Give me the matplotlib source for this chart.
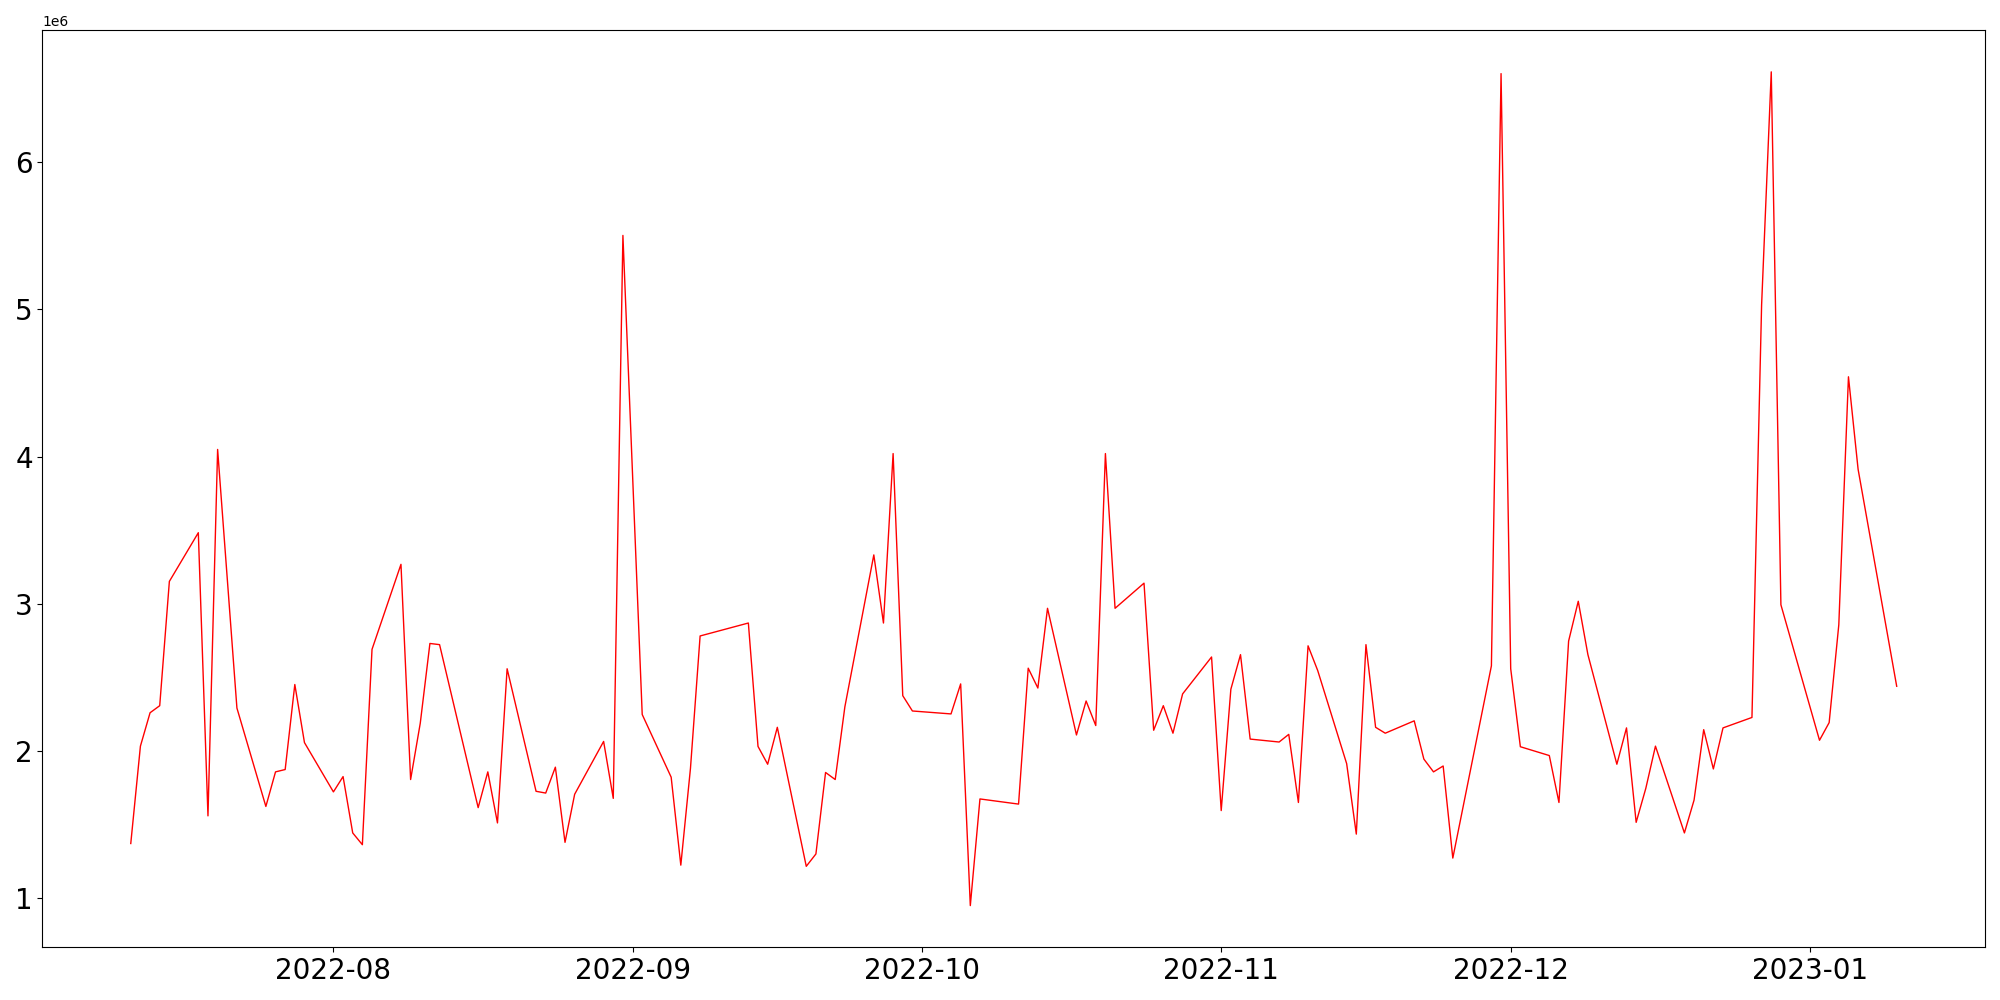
import pandas as pd
import matplotlib
matplotlib.use("Agg")
import matplotlib.pyplot as plt

# daily values (in millions)
dates = [
    "2022-07-11", "2022-07-12", "2022-07-13", "2022-07-14", "2022-07-15",
    "2022-07-18", "2022-07-19", "2022-07-20", "2022-07-22",
    "2022-07-25", "2022-07-26", "2022-07-27", "2022-07-28", "2022-07-29",
    "2022-08-01", "2022-08-02", "2022-08-03", "2022-08-04", "2022-08-05",
    "2022-08-08", "2022-08-09", "2022-08-10", "2022-08-11", "2022-08-12",
    "2022-08-16", "2022-08-17", "2022-08-18", "2022-08-19",
    "2022-08-22", "2022-08-23", "2022-08-24", "2022-08-25", "2022-08-26",
    "2022-08-29", "2022-08-30", "2022-08-31", "2022-09-02",
    "2022-09-05", "2022-09-06", "2022-09-07", "2022-09-08",
    "2022-09-13", "2022-09-14", "2022-09-15", "2022-09-16",
    "2022-09-19", "2022-09-20", "2022-09-21", "2022-09-22", "2022-09-23",
    "2022-09-26", "2022-09-27", "2022-09-28", "2022-09-29", "2022-09-30",
    "2022-10-04", "2022-10-05", "2022-10-06", "2022-10-07",
    "2022-10-11", "2022-10-12", "2022-10-13", "2022-10-14",
    "2022-10-17", "2022-10-18", "2022-10-19", "2022-10-20", "2022-10-21",
    "2022-10-24", "2022-10-25", "2022-10-26", "2022-10-27", "2022-10-28",
    "2022-10-31", "2022-11-01", "2022-11-02", "2022-11-03", "2022-11-04",
    "2022-11-07", "2022-11-08", "2022-11-09", "2022-11-10", "2022-11-11",
    "2022-11-14", "2022-11-15", "2022-11-16", "2022-11-17", "2022-11-18",
    "2022-11-21", "2022-11-22", "2022-11-23", "2022-11-24", "2022-11-25",
    "2022-11-29", "2022-11-30", "2022-12-01", "2022-12-02",
    "2022-12-05", "2022-12-06", "2022-12-07", "2022-12-08", "2022-12-09",
    "2022-12-12", "2022-12-13", "2022-12-14", "2022-12-15", "2022-12-16",
    "2022-12-19", "2022-12-20", "2022-12-21", "2022-12-22", "2022-12-23",
    "2022-12-26", "2022-12-27", "2022-12-28", "2022-12-29",
    "2023-01-02", "2023-01-03", "2023-01-04", "2023-01-05", "2023-01-06",
    "2023-01-10",
]
values = [
    1.369, 2.031, 2.258, 2.306, 3.151,
    3.482, 1.557, 4.048, 2.290,
    1.621, 1.856, 1.872, 2.450, 2.055,
    1.720, 1.824, 1.441, 1.361, 2.689,
    3.267, 1.804, 2.187, 2.729, 2.721,
    1.613, 1.856, 1.509, 2.557,
    1.724, 1.712, 1.888, 1.377, 1.704,
    2.063, 1.676, 5.503, 2.246,
    1.820, 1.222, 1.880, 2.780,
    2.868, 2.029, 1.908, 2.159,
    1.214, 1.298, 1.852, 1.804, 2.298,
    3.331, 2.868, 4.020, 2.374, 2.270,
    2.250, 2.454, 0.947, 1.672,
    1.637, 2.561, 2.426, 2.968,
    2.107, 2.338, 2.171, 4.020, 2.968,
    3.139, 2.139, 2.306, 2.119, 2.386,
    2.637, 1.593, 2.418, 2.653, 2.079,
    2.059, 2.111, 1.648, 2.713, 2.545,
    1.912, 1.433, 2.721, 2.159, 2.119,
    2.203, 1.943, 1.856, 1.896, 1.270,
    2.577, 6.603, 2.557, 2.027,
    1.967, 1.648, 2.745, 3.016, 2.653,
    1.908, 2.155, 1.513, 1.744, 2.031,
    1.441, 1.664, 2.143, 1.876, 2.155,
    2.226, 5.030, 6.615, 2.992,
    2.071, 2.191, 2.856, 4.542, 3.913,
    2.438,
]

s = pd.Series([v * 1e6 for v in values], index=pd.to_datetime(dates))

fig, ax = plt.subplots(figsize=(20, 10), dpi=100)
ax.plot(s.index, s.values, color='red', linewidth=1)
ax.tick_params(axis='both', labelsize=20)

fig.tight_layout()
fig.savefig("out.png", facecolor='w')
